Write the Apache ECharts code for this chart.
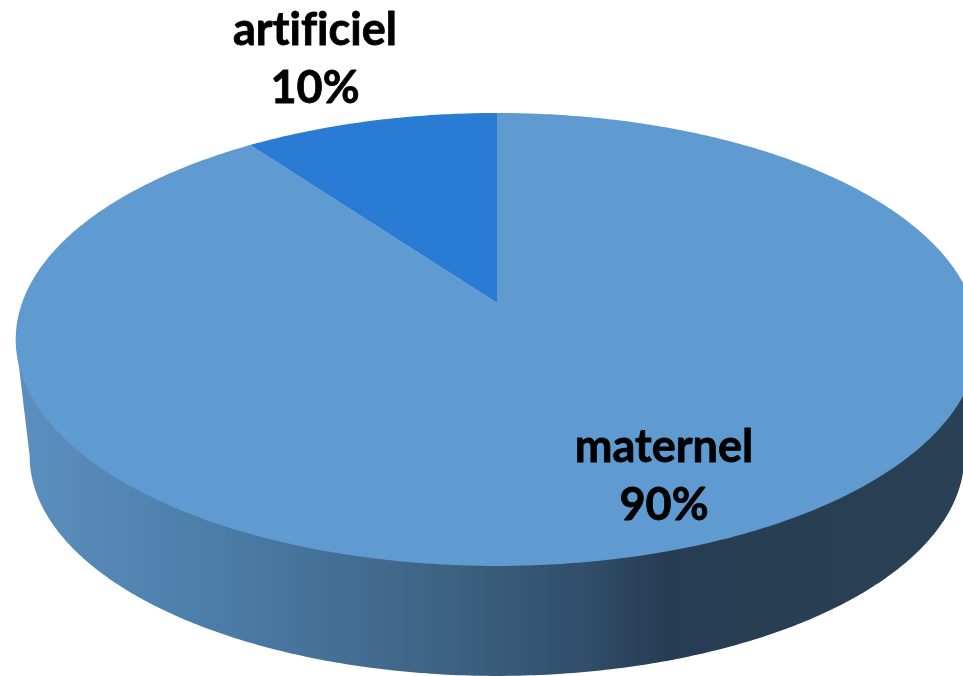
<!DOCTYPE html>
<html>
<head>
<meta charset="utf-8">
<style>html,body{margin:0;padding:0;background:#fff;overflow:hidden}#c{width:963px;height:676px}</style>
<script src="https://cdn.jsdelivr.net/npm/echarts@6/dist/echarts.min.js"></script>
</head>
<body>
<div id="c"></div>
<script>
var categories = ['maternel', 'artificiel'];
var values = [90, 10];
var sliceColors = ['#5F9AD0', '#2A7BD4'];

// perspective disc: apex, half-width, projection strength
var CX = 497, CY = 303, R = 475, K = 220.6, P = 0.161;
var WALL_SCALE = 0.971, WALL_DY = 117.6;
var labelPos = [[664, 476], [315, 59]];
var total = values.reduce(function (a, b) { return a + b; }, 0);

// a tiny letter spacing keeps the label font from forming ti / fi ligatures
var proto = CanvasRenderingContext2D.prototype, origFillText = proto.fillText;
proto.fillText = function () {
  this.letterSpacing = '0.05px';
  return origFillText.apply(this, arguments);
};
var origStrokeText = proto.strokeText;
proto.strokeText = function () {
  this.letterSpacing = '0.05px';
  return origStrokeText.apply(this, arguments);
};

function project(theta, scale, dy) {
  var d = Math.cos(theta), s = Math.sin(theta), w = 1 + P * d;
  return [CX + scale * R * s / w, CY + dy - scale * K * d / w];
}
function arc(a0, a1, scale, dy) {
  var pts = [], n = Math.max(2, Math.ceil(Math.abs(a1 - a0) / 0.01));
  for (var i = 0; i <= n; i++) pts.push(project(a0 + (a1 - a0) * i / n, scale, dy));
  return pts;
}
var wallGradient = {
  type: 'linear', global: true, x: 30, y: 0, x2: 963, y2: 0,
  colorStops: [
    { offset: 0, color: '#5A8EBE' },
    { offset: 0.22, color: '#4A7BA6' },
    { offset: 0.45, color: '#3D6282' },
    { offset: 0.60, color: '#304D69' },
    { offset: 0.68, color: '#273D53' },
    { offset: 1, color: '#2A4054' }
  ]
};

function renderItem(params, api) {
  var i = params.dataIndex, start = 0;
  for (var j = 0; j < i; j++) start += values[j];
  var a0 = start / total * 2 * Math.PI;
  var a1 = (start + api.value(0)) / total * 2 * Math.PI;
  var children = [];
  if (i === 0) {
    var ext = Math.acos(-P);
    var wall = [project(ext, 1, 0)].concat(arc(ext, 2 * Math.PI - ext, WALL_SCALE, WALL_DY));
    wall.push(project(2 * Math.PI - ext, 1, 0));
    children.push({ type: 'polygon', shape: { points: wall }, style: { fill: wallGradient } });
  }
  children.push({
    type: 'polygon',
    shape: { points: [[CX, CY]].concat(arc(a0, a1, 1, 0)) },
    style: { fill: sliceColors[i] }
  });
  return { type: 'group', children: children };
}
function renderLabel(params, api) {
  var i = params.dataIndex;
  return {
    type: 'text', z2: 10,
    style: {
      text: categories[i] + '\n' + api.value(0) + '%',
      x: labelPos[i][0], y: labelPos[i][1],
      align: 'center', verticalAlign: 'middle',
      font: 'bold 45px Lato, "Liberation Sans", sans-serif',
      lineHeight: 58, fill: '#000', stroke: '#000', lineWidth: 0.8
    }
  };
}
var chart = echarts.init(document.getElementById('c'), null, { renderer: 'canvas' });
chart.setOption({
  animation: false,
  backgroundColor: '#fff',
  series: [
    { type: 'custom', coordinateSystem: 'none', renderItem: renderItem, data: values.map(function (v) { return [v]; }), silent: true, z: 1 },
    { type: 'custom', coordinateSystem: 'none', renderItem: renderLabel, data: values.map(function (v) { return [v]; }), silent: true, z: 2 }
  ]
});
</script>
</body>
</html>
